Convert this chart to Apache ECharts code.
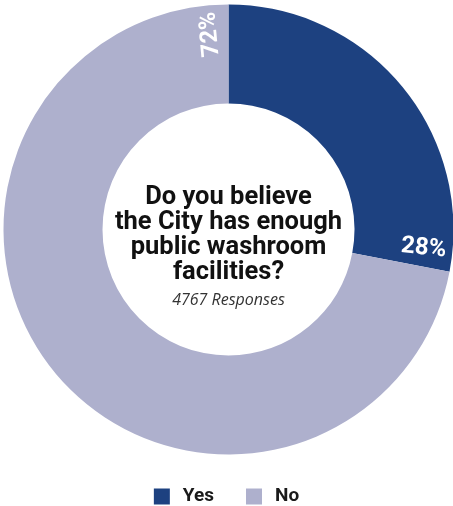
<!DOCTYPE html>
<html>
<head>
<meta charset="utf-8">
<script src="https://cdn.jsdelivr.net/npm/echarts@6/dist/echarts.min.js"></script>
<style>
  html, body { margin: 0; padding: 0; background: #ffffff; }
  #chart { width: 453px; height: 506px; }
</style>
</head>
<body>
<div id="chart"></div>
<script>
// Survey answers
const categories = ['Yes', 'No'];
const shares = [28, 72];
const sliceColors = ['#1d4180', '#aeb0cd'];
const questionLines = ['Do you believe', 'the City has enough', 'public washroom', 'facilities?'];
const responseNote = '4767 Responses';

const CX = 228.5, CY = 229.5, R_IN = 126, R_OUT = 225;
const LABEL_R = 196;      // radius where the percentage labels sit
const LABEL_BACK = 5.3;   // degrees back from the end of each slice

const total = shares.reduce((a, b) => a + b, 0);
// angle (clockwise from 12 o'clock) at which each slice ends
const endAngles = [];
shares.reduce((acc, v) => { const e = acc + v; endAngles.push(e / total * 360); return e; }, 0);

const chart = echarts.init(document.getElementById('chart'), null, { renderer: 'canvas' });

chart.setOption({
  animation: false,
  backgroundColor: '#ffffff',
  legend: {
    data: categories,
    top: 487,
    left: 'center',
    padding: 0,
    itemWidth: 16,
    itemHeight: 16,
    itemGap: 32,
    icon: 'rect',
    textStyle: {
      fontFamily: 'Roboto',
      fontWeight: 'bold',
      fontSize: 19,
      color: '#1a1a1a',
      padding: [0, 0, 0, 8]
    }
  },
  graphic: [
    {
      type: 'text',
      x: CX,
      y: 235,
      style: {
        text: questionLines.join('\n'),
        fontFamily: 'Roboto',
        fontWeight: 'bold',
        fontSize: 25.5,
        lineHeight: 25,
        fill: '#111111',
        align: 'center',
        verticalAlign: 'middle'
      }
    },
    {
      type: 'text',
      x: CX,
      y: 300,
      style: {
        text: responseNote,
        fontFamily: 'Open Sans',
        fontStyle: 'italic',
        fontSize: 16,
        fill: '#333333',
        align: 'center',
        verticalAlign: 'middle'
      }
    }
  ],
  series: [{
    type: 'pie',
    center: [CX, CY],
    radius: [R_IN, R_OUT],
    startAngle: 90,
    clockwise: true,
    avoidLabelOverlap: false,
    emphasis: { disabled: true },
    itemStyle: { borderWidth: 0 },
    label: {
      show: true,
      position: 'inside',
      formatter: '{c}%',
      color: '#ffffff',
      fontFamily: 'Roboto',
      fontWeight: 'bold',
      fontSize: 24
    },
    labelLine: { show: false },
    labelLayout: function (params) {
      const deg = endAngles[params.dataIndex] - LABEL_BACK;
      const rad = deg * Math.PI / 180;
      const x = CX + LABEL_R * Math.sin(rad);
      const y = CY - LABEL_R * Math.cos(rad);
      // text runs outward along the radius
      let rot = 90 - deg;
      while (rot > 180) rot -= 360;
      while (rot <= -180) rot += 360;
      return { x: x, y: y, rotate: rot, align: 'center', verticalAlign: 'middle' };
    },
    data: categories.map((name, i) => ({
      name: name,
      value: shares[i],
      itemStyle: { color: sliceColors[i] }
    }))
  }]
});
</script>
</body>
</html>
